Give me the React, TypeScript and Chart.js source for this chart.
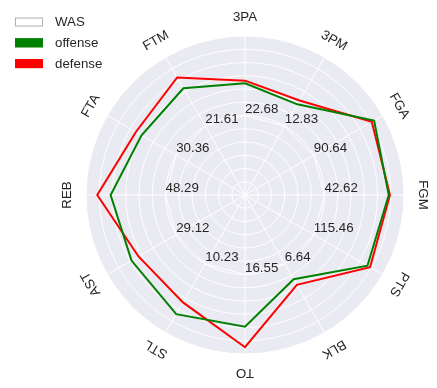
import React, { useEffect, useRef } from "react";
import { Chart, registerables } from "chart.js";

Chart.register(...registerables);

// Axis categories, clockwise from the top
const categories = ["3PA", "3PM", "FGA", "FGM", "PTS", "BLK", "TO", "STL", "AST", "REB", "FTA", "FTM"];
// Team reference values (printed on each axis)
const wasValues = ["22.68", "12.83", "90.64", "42.62", "115.46", "6.64", "16.55", "10.23", "29.12", "48.29", "30.36", "21.61"];
// Normalized positions on a 0–12 radial scale (WAS sits at the middle ring)
const wasLevel = [6, 6, 6, 6, 6, 6, 6, 6, 6, 6, 6, 6];
const offense = [8.43, 7.9, 11.25, 10.85, 10.67, 7.34, 9.94, 10.38, 9.89, 10.14, 9.02, 9.3];
const defense = [8.63, 8.23, 11.05, 10.94, 10.9, 7.83, 11.49, 9.36, 9.28, 11.15, 9.51, 10.24];
const seriesNames = ["WAS", "offense", "defense"];
const seriesColors = ["#ffffff", "#008000", "#ff0000"];

const FONT = '"Liberation Sans", Arial, sans-serif';
const TEXT = "#262626";

const labelsPlugin = {
  id: "radarLabels",
  afterDraw(chart: any) {
    const ctx = chart.ctx;
    const scale = chart.scales.r;
    ctx.save();
    ctx.fillStyle = TEXT;
    ctx.font = `13.3px ${FONT}`;
    // axis names, rotated
    categories.forEach((c, i) => {
      const p = scale.getPointPosition(i, scale.drawingArea + 19);
      ctx.save();
      ctx.translate(p.x, p.y);
      ctx.rotate((i * 2 * Math.PI) / categories.length);
      ctx.textAlign = "center";
      ctx.textBaseline = "middle";
      ctx.fillText(c, 0, 0);
      ctx.restore();
    });
    // reference values
    wasValues.forEach((v, i) => {
      const p = scale.getPointPositionForValue(i, wasLevel[i]);
      ctx.textAlign = "left";
      ctx.textBaseline = "bottom";
      ctx.fillText(v, p.x, p.y);
    });
    // legend
    seriesNames.forEach((n, i) => {
      const y = 17.5 + i * 20.8;
      ctx.fillStyle = seriesColors[i];
      ctx.fillRect(15, y, 28, 9);
      ctx.strokeStyle = i === 0 ? "#b0b0b0" : seriesColors[i];
      ctx.lineWidth = 1;
      ctx.strokeRect(15.5, y + 0.5, 27, 8);
      ctx.fillStyle = TEXT;
      ctx.textAlign = "left";
      ctx.textBaseline = "middle";
      ctx.fillText(n, 55, y + 4.8);
    });
    ctx.restore();
  },
};

export default function App() {
  const ref = useRef<HTMLCanvasElement>(null);
  useEffect(() => {
    if (!ref.current) return;
    const chart = new Chart(ref.current, {
      type: "radar",
      data: {
        labels: categories,
        datasets: [
          { label: seriesNames[0], data: wasLevel, borderColor: seriesColors[0], borderWidth: 1, pointRadius: 0, fill: false },
          { label: seriesNames[1], data: offense, borderColor: seriesColors[1], borderWidth: 2, pointRadius: 0, fill: false },
          { label: seriesNames[2], data: defense, borderColor: seriesColors[2], borderWidth: 2, pointRadius: 0, fill: false },
        ],
      },
      options: {
        responsive: false,
        animation: false,
        layout: { padding: { left: 86, right: 33, top: 36, bottom: 34 } },
        plugins: { legend: { display: false }, tooltip: { enabled: false } },
        elements: { line: { tension: 0 } },
        scales: {
          r: {
            min: 0,
            max: 12,
            backgroundColor: "#EAEAF2",
            ticks: { display: false, stepSize: 1 },
            grid: { color: "#ffffff", lineWidth: 1, circular: true },
            angleLines: { color: "#ffffff", lineWidth: 1 },
            pointLabels: { display: false },
          },
        },
      },
      plugins: [labelsPlugin],
    });
    return () => chart.destroy();
  }, []);
  return (
    <div style={{ position: "fixed", left: 0, top: 0, width: 437, height: 388, background: "#fff" }}>
      <canvas ref={ref} width={437} height={388} style={{ display: "block" }} />
    </div>
  );
}
